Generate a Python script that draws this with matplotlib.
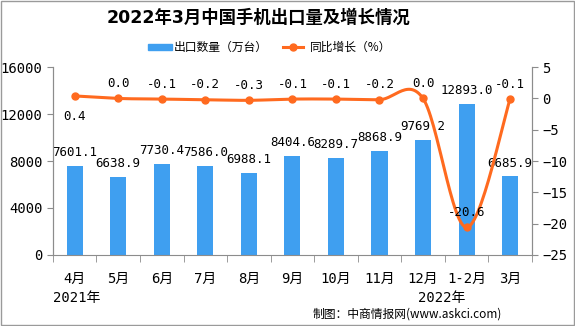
import numpy as np
import matplotlib.pyplot as plt
from matplotlib.patches import Rectangle

plt.rcParams['font.family'] = ['DejaVu Sans Mono', 'Noto Sans CJK SC']

months = ['4月', '5月', '6月', '7月', '8月', '9月', '10月', '11月', '12月', '1-2月', '3月']
exports = [7601.1, 6638.9, 7730.4, 7586.0, 6988.1, 8404.6, 8289.7, 8868.9, 9769.2, 12893.0, 6685.9]
growth = [0.4, 0.0, -0.1, -0.2, -0.3, -0.1, -0.1, -0.2, 0.0, -20.6, -0.1]

bar_color = '#3f9ff0'
line_color = '#ff6a1f'
axis_color = '#8c8c8c'


def smooth(xs, ys, n=30):
    # catmull-rom, like the excel smoothed line
    px = np.concatenate([[xs[0]], xs, [xs[-1]]])
    py = np.concatenate([[ys[0]], ys, [ys[-1]]])
    ox, oy = [], []
    t = np.linspace(0, 1, n)
    for i in range(1, len(px) - 2):
        for p, out in ((px, ox), (py, oy)):
            p0, p1, p2, p3 = p[i - 1], p[i], p[i + 1], p[i + 2]
            out.extend(0.5 * (2 * p1 + (-p0 + p2) * t + (2 * p0 - 5 * p1 + 4 * p2 - p3) * t ** 2
                              + (-p0 + 3 * p1 - 3 * p2 + p3) * t ** 3))
    return np.array(ox), np.array(oy)


fig = plt.figure(figsize=(5.75, 3.26), dpi=100)
ax = fig.add_axes([0.092, 0.218, 0.833, 0.576])
ax2 = ax.twinx()

x = np.arange(len(months))
ax.bar(x, exports, width=0.37, color=bar_color, zorder=2)
for xi, v in zip(x, exports):
    ax.annotate(f'{v:.1f}', (xi, v), xytext=(0, 5), textcoords='offset points',
                ha='center', va='bottom', fontsize=9)

sx, sy = smooth(x.astype(float), np.array(growth))
ax2.plot(sx, sy, color=line_color, lw=2.2, zorder=3)
ax2.plot(x, growth, 'o', color=line_color, ms=5, zorder=4)
for xi, v in zip(x, growth):
    if xi == 0:
        ax2.annotate(f'{v:.1f}', (xi, v), xytext=(0, -10), textcoords='offset points',
                     ha='center', va='top', fontsize=9)
    else:
        ax2.annotate(f'{v:.1f}', (xi, v), xytext=(0, 6), textcoords='offset points',
                     ha='center', va='bottom', fontsize=9)

ax.set_xlim(-0.5, len(months) - 0.5)
ax.set_ylim(0, 16000)
ax.set_yticks(range(0, 16001, 4000))
ax2.set_ylim(-25, 5)
ax2.set_yticks(range(-25, 6, 5))
ax2.set_yticklabels([str(v).replace('-', '−') for v in range(-25, 6, 5)])

ax.set_xticks(x)
ax.set_xticklabels(months, fontsize=10)
ax.set_xticks(np.arange(-0.5, len(months), 1), minor=True)
ax.tick_params(axis='x', which='major', length=0, pad=12)
ax.tick_params(axis='x', which='minor', length=5, color=axis_color, direction='out')
ax.tick_params(axis='y', length=4, color=axis_color, labelsize=10)
ax2.tick_params(axis='y', length=4, color=axis_color, labelsize=10)

for a in (ax, ax2):
    a.spines['top'].set_visible(False)
    for s in ('left', 'right', 'bottom'):
        a.spines[s].set_color(axis_color)
ax2.spines['bottom'].set_visible(False)

fig.text(0.45, 0.945, '2022年3月中国手机出口量及增长情况', ha='center', va='center',
         fontsize=12.5, fontweight='bold', family=['DejaVu Sans', 'Noto Sans CJK SC'])

# legend
fig.patches.append(Rectangle((148 / 575, 1 - 50 / 326), 24 / 575, 6 / 326,
                             transform=fig.transFigure, color=bar_color))
fig.text(174 / 575, 1 - 47 / 326, '出口数量（万台）', va='center', fontsize=8.5,
         family=['Noto Sans CJK SC'])
fig.lines.append(plt.Line2D([283 / 575, 303 / 575], [1 - 47 / 326] * 2, transform=fig.transFigure,
                            color=line_color, lw=2.2))
fig.lines.append(plt.Line2D([293 / 575], [1 - 47 / 326], transform=fig.transFigure,
                            color=line_color, marker='o', ms=5))
fig.text(310 / 575, 1 - 47 / 326, '同比增长（%）', va='center', fontsize=8.5,
         family=['Noto Sans CJK SC'])

fig.text(53 / 575, 1 - 298 / 326, '2021年', ha='left', va='center', fontsize=10)
fig.text(418 / 575, 1 - 298 / 326, '2022年', ha='left', va='center', fontsize=10)
fig.text(502 / 575, 1 - 314 / 326, '制图：中商情报网(www.askci.com)', ha='right', va='center',
         fontsize=8.5, family=['Noto Sans CJK SC', 'DejaVu Sans'])
fig.patches.append(Rectangle((0.001, 0.002), 0.997, 0.995, transform=fig.transFigure,
                             fill=False, edgecolor='#9a9a9a', lw=1))

fig.savefig('out.png', dpi=100)
